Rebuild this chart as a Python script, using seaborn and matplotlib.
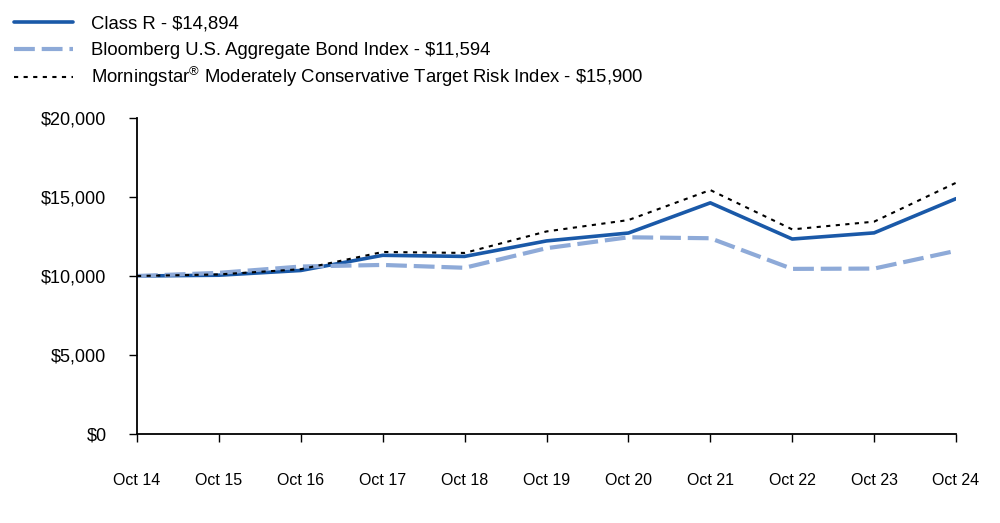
import numpy as np
import pandas as pd
import matplotlib
matplotlib.use("Agg")
import matplotlib.pyplot as plt
import seaborn as sns

# === Data ===
periods = ["Oct 14", "Oct 15", "Oct 16", "Oct 17", "Oct 18", "Oct 19",
           "Oct 20", "Oct 21", "Oct 22", "Oct 23", "Oct 24"]
class_r = [10000, 10050, 10350, 11310, 11240, 12220, 12720, 14630, 12340, 12730, 14894]
bloomberg = [10000, 10200, 10600, 10700, 10520, 11760, 12450, 12390, 10450, 10470, 11594]
morningstar = [10000, 10100, 10430, 11520, 11460, 12820, 13540, 15440, 12950, 13440, 15900]

series_names = ["Class R - \\$14,894",
                "Bloomberg U.S. Aggregate Bond Index - \\$11,594",
                "Morningstar$^{\u00ae}$ Moderately Conservative Target Risk Index - \\$15,900"]

df = pd.DataFrame({"x": np.arange(len(periods)), "Class R": class_r,
                   "Bloomberg": bloomberg, "Morningstar": morningstar})

sns.set_style("ticks")
plt.rcParams["font.family"] = ["Liberation Sans", "DejaVu Sans"]
plt.rcParams["mathtext.fontset"] = "custom"
plt.rcParams["mathtext.rm"] = "Liberation Sans"
plt.rcParams["mathtext.it"] = "Liberation Sans"
plt.rcParams["text.color"] = "black"
plt.rcParams["xtick.color"] = "black"
plt.rcParams["ytick.color"] = "black"

fig = plt.figure(figsize=(10, 5.23), dpi=100)
ax = fig.add_axes([0.137, 1 - 434 / 523, 0.819, 316 / 523])

sns.lineplot(data=df, x="x", y="Class R", ax=ax, color="#1a59a8", lw=2.6,
             label=series_names[0])
sns.lineplot(data=df, x="x", y="Bloomberg", ax=ax, color="#8eaad8", lw=3.0,
             label=series_names[1])
ax.lines[-1].set_dashes([5, 1.65])
sns.lineplot(data=df, x="x", y="Morningstar", ax=ax, color="black", lw=1.5,
             label=series_names[2])
ax.lines[-1].set_dashes([2, 2.6])

ax.set_xlim(0, len(periods) - 1)
ax.set_ylim(0, 20000)
ax.set_xticks(np.arange(len(periods)))
ax.set_xticklabels(periods)
ax.set_yticks(np.arange(0, 20001, 5000))
ax.yaxis.set_major_formatter(matplotlib.ticker.FuncFormatter(lambda v, p: f"${v:,.0f}"))
ax.set_xlabel("")
ax.set_ylabel("")
ax.tick_params(axis="x", labelsize=11.5, length=6, width=1, pad=22, direction="out",
               color="black", labelcolor="black")
ax.tick_params(axis="y", labelsize=13, length=6, width=1, pad=16, direction="out",
               color="black", labelcolor="black")
sns.despine(ax=ax)
for side in ["left", "bottom"]:
    ax.spines[side].set_color("black")
    ax.spines[side].set_linewidth(1.3)

# two legends so the superscript row does not stretch the spacing
handles, labels = ax.get_legend_handles_labels()
leg_kw = dict(frameon=False, fontsize=13.3, handlelength=3.16, handletextpad=1.0,
              labelspacing=0.52, borderaxespad=0, loc="upper left")
x_anchor = (7 - 137) / 819
leg1 = ax.legend(handles[:2], labels[:2], bbox_to_anchor=(x_anchor, 1 + 110 / 316), **leg_kw)
ax.add_artist(leg1)
ax.legend(handles[2:], labels[2:], bbox_to_anchor=(x_anchor, 1 + 60 / 316), **leg_kw)

fig.savefig("out.png", dpi=100)
